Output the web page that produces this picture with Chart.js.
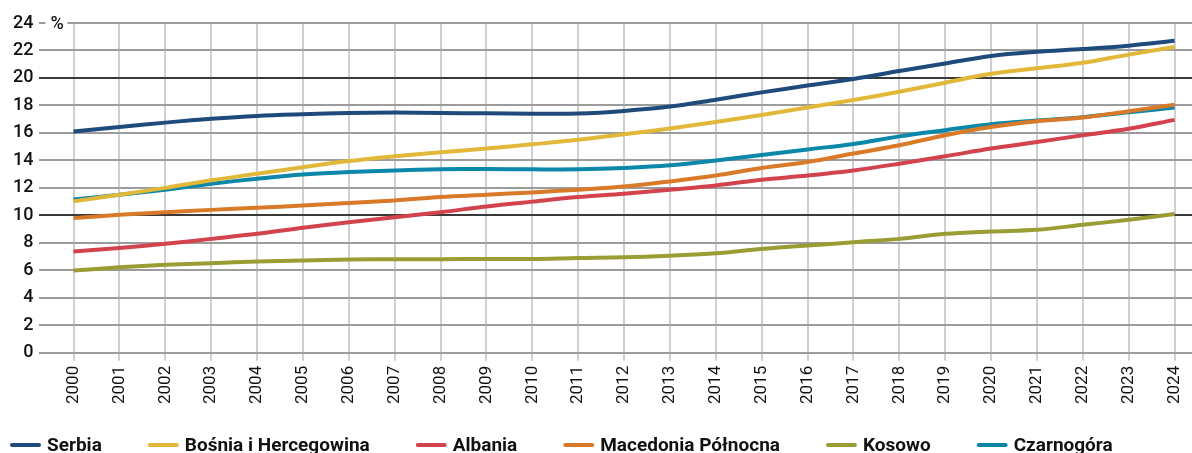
<!DOCTYPE html>
<html>
<head>
<meta charset="utf-8">
<script src="https://cdn.jsdelivr.net/npm/chart.js@4"></script>
<style>
  html, body { margin: 0; padding: 0; background: #fff; }
  #wrap { width: 1192px; height: 453px; position: relative; }
</style>
</head>
<body>
<div id="wrap"><canvas id="lineChart"></canvas></div>
<script>
const years = [2000, 2001, 2002, 2003, 2004, 2005, 2006, 2007, 2008, 2009, 2010, 2011, 2012,
  2013, 2014, 2015, 2016, 2017, 2018, 2019, 2020, 2021, 2022, 2023, 2024];

const serbia = [16.1, 16.43, 16.75, 17.03, 17.24, 17.36, 17.45, 17.48, 17.45, 17.43, 17.4, 17.41, 17.6,
  17.92, 18.42, 18.95, 19.45, 19.93, 20.5, 21.05, 21.6, 21.9, 22.1, 22.35, 22.7];
const bosnia = [11.02, 11.5, 12.0, 12.55, 13.03, 13.5, 13.95, 14.3, 14.6, 14.86, 15.17, 15.5, 15.9,
  16.32, 16.8, 17.3, 17.85, 18.4, 19.0, 19.65, 20.3, 20.7, 21.1, 21.7, 22.25];
const albania = [7.37, 7.63, 7.93, 8.29, 8.66, 9.1, 9.5, 9.87, 10.23, 10.65, 11.0, 11.33, 11.57,
  11.87, 12.18, 12.6, 12.9, 13.27, 13.76, 14.3, 14.86, 15.34, 15.83, 16.3, 16.95];
const macedonia = [9.8, 10.04, 10.23, 10.4, 10.55, 10.72, 10.9, 11.09, 11.33, 11.5, 11.67, 11.87, 12.1,
  12.47, 12.9, 13.45, 13.88, 14.5, 15.1, 15.83, 16.43, 16.85, 17.12, 17.58, 18.05];
const kosovo = [5.98, 6.22, 6.4, 6.52, 6.64, 6.71, 6.78, 6.81, 6.81, 6.83, 6.83, 6.9, 6.95,
  7.07, 7.24, 7.56, 7.8, 8.05, 8.29, 8.66, 8.83, 8.95, 9.31, 9.68, 10.1];
const montenegro = [11.15, 11.5, 11.87, 12.3, 12.67, 12.98, 13.15, 13.27, 13.35, 13.37, 13.35, 13.35, 13.45,
  13.64, 14.0, 14.4, 14.8, 15.2, 15.75, 16.2, 16.63, 16.9, 17.15, 17.5, 17.85];

const seriesNames = ['Serbia', 'Bośnia i Hercegowina', 'Albania', 'Macedonia Północna', 'Kosowo', 'Czarnogóra'];
const seriesColors = ['#1f4a7c', '#e2b83a', '#d2434e', '#d97a28', '#9a9d33', '#0a87a9'];
const seriesValues = [serbia, bosnia, albania, macedonia, kosovo, montenegro];
const yTicks = [0, 2, 4, 6, 8, 10, 12, 14, 16, 18, 20, 22, 24];
const unitLabel = '%';

// "%" next to the top tick, over the grid line
const unitPlugin = {
  id: 'unitLabel',
  afterDraw(chart) {
    const ctx = chart.ctx;
    const y = chart.scales.y.getPixelForValue(24);
    const left = chart.chartArea.left;
    ctx.save();
    ctx.fillStyle = '#fff';
    ctx.fillRect(left + 6, y - 3, 22, 6);
    ctx.fillStyle = '#111';
    ctx.font = '500 18px Roboto';
    ctx.textBaseline = 'middle';
    ctx.fillText(unitLabel, left + 11, y + 1);
    ctx.restore();
  }
};

// legend row at the bottom
const legendPlugin = {
  id: 'bottomLegend',
  afterDraw(chart) {
    const ctx = chart.ctx;
    const y = 445;
    let x = 10;
    ctx.save();
    ctx.font = 'bold 19px Roboto';
    ctx.textBaseline = 'middle';
    chart.data.datasets.forEach(ds => {
      ctx.beginPath();
      ctx.lineCap = 'round';
      ctx.strokeStyle = ds.borderColor;
      ctx.lineWidth = 4;
      ctx.moveTo(x + 2, y);
      ctx.lineTo(x + 29, y);
      ctx.stroke();
      ctx.fillStyle = '#111';
      ctx.fillText(ds.label, x + 37, y + 1);
      x += 37 + ctx.measureText(ds.label).width + 46;
    });
    ctx.restore();
  }
};

function createChart() {
  const ctx = document.getElementById('lineChart').getContext('2d');
  new Chart(ctx, {
    type: 'line',
    data: {
      labels: years,
      datasets: seriesNames.map((name, i) => ({
        label: name,
        data: seriesValues[i],
        borderColor: seriesColors[i],
        backgroundColor: seriesColors[i],
        borderWidth: 4,
        pointRadius: 0,
        tension: 0.35,
        fill: false
      }))
    },
    options: {
      responsive: true,
      maintainAspectRatio: false,
      animation: false,
      layout: { padding: { left: 7, top: 23, right: 0, bottom: 44 } },
      plugins: {
        legend: { display: false },
        tooltip: { enabled: false }
      },
      scales: {
        x: {
          type: 'linear',
          min: 1999.258,
          max: 2024.38,
          afterBuildTicks: axis => { axis.ticks = years.map(v => ({ value: v })); },
          afterFit: axis => { axis.paddingLeft = 0; axis.paddingRight = 0; },
          grid: { color: '#cfcfcf', lineWidth: 2, tickLength: 8, drawTicks: true },
          border: { display: false },
          ticks: {
            autoSkip: false,
            minRotation: 90,
            maxRotation: 90,
            padding: 5,
            color: '#111',
            font: { family: 'Roboto', size: 17 },
            callback: v => String(v)
          }
        },
        y: {
          min: 0,
          max: 24,
          afterBuildTicks: axis => { axis.ticks = yTicks.map(v => ({ value: v })); },
          afterFit: axis => { axis.paddingTop = 0; axis.paddingBottom = 0; },
          grid: {
            drawTicks: false,
            lineWidth: 2,
            color: c => (c.tick && (c.tick.value === 10 || c.tick.value === 20)) ? '#3a3a3a' : '#9c9c9c'
          },
          border: { display: false },
          ticks: {
            padding: 6,
            color: '#111',
            font: { family: 'Roboto', size: 18, weight: '500' }
          }
        }
      }
    },
    plugins: [unitPlugin, legendPlugin]
  });
}

window.onload = createChart;
</script>
</body>
</html>
